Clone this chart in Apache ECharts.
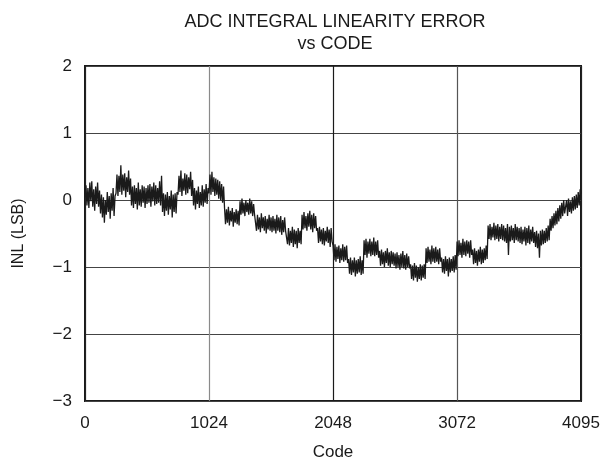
<!DOCTYPE html>
<html>
<head>
<meta charset="utf-8">
<script src="https://cdn.jsdelivr.net/npm/echarts@6/dist/echarts.min.js"></script>
<style>
  html, body { margin: 0; padding: 0; background: #fff; }
  #chart { width: 609px; height: 466px; }
</style>
</head>
<body>
<div id="chart"></div>
<script>
// INL, one value every 8 codes (16 per 128-code block), last one at code 4095
var inl = [
  0.04, 0.22, -0.08, 0.18, -0.12, 0.26, -0.02, 0.28, -0.1, 0.16, -0.16, 0.2, -0.06, 0.26, -0.1, 0.14,
  -0.2, 0.08, -0.26, 0.04, -0.34, 0.0, -0.22, 0.12, -0.18, 0.06, -0.28, 0.1, -0.16, 0.18, -0.24, 0.06,
  0.1, 0.38, 0.06, 0.36, 0.12, 0.52, 0.08, 0.38, 0.14, 0.4, 0.04, 0.34, 0.12, 0.44, 0.08, 0.32,
  -0.08, 0.2, -0.12, 0.22, -0.06, 0.18, -0.14, 0.26, -0.08, 0.16, -0.1, 0.22, -0.04, 0.2, -0.12, 0.18,
  -0.06, 0.22, -0.04, 0.24, -0.1, 0.2, -0.02, 0.26, -0.08, 0.22, -0.06, 0.18, -0.04, 0.28, -0.08, 0.36,
  -0.18, 0.1, -0.24, 0.08, -0.16, 0.12, -0.22, 0.06, -0.14, 0.14, -0.26, 0.08, -0.18, 0.1, -0.2, 0.12,
  0.08, 0.36, 0.12, 0.44, 0.06, 0.32, 0.14, 0.4, 0.08, 0.38, 0.1, 0.34, 0.16, 0.42, 0.06, 0.3,
  -0.08, 0.18, -0.14, 0.14, -0.06, 0.2, -0.12, 0.12, -0.08, 0.22, -0.1, 0.16, -0.04, 0.24, -0.06, 0.18,
  0.1, 0.38, 0.08, 0.42, 0.12, 0.34, 0.06, 0.32, 0.08, 0.3, 0.02, 0.28, 0.0, 0.24, -0.04, 0.2,
  -0.12, -0.36, -0.14, -0.34, -0.1, -0.38, -0.16, -0.32, -0.12, -0.4, -0.18, -0.34, -0.14, -0.36, -0.16, -0.38,
  -0.02, -0.22, 0.02, -0.2, -0.04, -0.24, 0.0, -0.18, -0.04, -0.22, 0.02, -0.2, -0.02, -0.24, -0.06, -0.22,
  -0.24, -0.46, -0.22, -0.44, -0.26, -0.48, -0.2, -0.42, -0.26, -0.46, -0.24, -0.5, -0.28, -0.44, -0.22, -0.46,
  -0.26, -0.48, -0.24, -0.46, -0.28, -0.5, -0.22, -0.46, -0.26, -0.48, -0.24, -0.52, -0.3, -0.48, -0.26, -0.46,
  -0.44, -0.66, -0.42, -0.68, -0.46, -0.64, -0.4, -0.7, -0.44, -0.66, -0.46, -0.72, -0.42, -0.64, -0.46, -0.66,
  -0.22, -0.44, -0.18, -0.42, -0.24, -0.46, -0.2, -0.4, -0.16, -0.44, -0.22, -0.48, -0.2, -0.42, -0.24, -0.46,
  -0.42, -0.64, -0.4, -0.62, -0.44, -0.66, -0.42, -0.68, -0.46, -0.62, -0.4, -0.64, -0.44, -0.7, -0.42, -0.62,
  -0.68, -0.9, -0.66, -0.92, -0.7, -0.88, -0.68, -0.94, -0.72, -0.9, -0.66, -0.92, -0.7, -0.9, -0.68, -0.94,
  -0.88, -1.1, -0.86, -1.12, -0.9, -1.08, -0.86, -1.14, -0.9, -1.1, -0.88, -1.08, -0.84, -1.12, -0.9, -1.1,
  -0.6, -0.82, -0.58, -0.86, -0.62, -0.8, -0.58, -0.84, -0.62, -0.82, -0.56, -0.84, -0.62, -0.82, -0.6, -0.86,
  -0.76, -0.98, -0.74, -0.96, -0.78, -1.0, -0.76, -0.94, -0.72, -0.98, -0.78, -1.0, -0.76, -0.96, -0.78, -0.98,
  -0.8, -1.02, -0.78, -1.0, -0.82, -1.04, -0.8, -1.0, -0.76, -1.02, -0.82, -1.04, -0.8, -1.0, -0.84, -1.02,
  -0.96, -1.18, -0.98, -1.2, -0.94, -1.16, -0.98, -1.22, -1.0, -1.18, -0.96, -1.2, -0.98, -1.16, -0.96, -1.18,
  -0.72, -0.94, -0.7, -0.92, -0.74, -0.96, -0.68, -0.92, -0.72, -0.94, -0.7, -0.92, -0.74, -0.96, -0.72, -0.92,
  -0.86, -1.08, -0.88, -1.1, -0.84, -1.06, -0.88, -1.14, -0.86, -1.08, -0.88, -1.06, -0.84, -1.08, -0.82, -1.04,
  -0.62, -0.84, -0.6, -0.82, -0.64, -0.86, -0.58, -0.82, -0.62, -0.84, -0.6, -0.8, -0.62, -0.86, -0.6, -0.82,
  -0.74, -0.96, -0.72, -0.94, -0.76, -0.98, -0.74, -0.92, -0.7, -0.96, -0.74, -0.94, -0.72, -0.9, -0.68, -0.88,
  -0.38, -0.58, -0.36, -0.6, -0.4, -0.56, -0.34, -0.6, -0.38, -0.58, -0.36, -0.62, -0.4, -0.58, -0.36, -0.6,
  -0.38, -0.62, -0.42, -0.64, -0.36, -0.82, -0.4, -0.62, -0.38, -0.6, -0.42, -0.64, -0.36, -0.6, -0.4, -0.62,
  -0.42, -0.64, -0.4, -0.66, -0.44, -0.62, -0.4, -0.68, -0.42, -0.64, -0.38, -0.66, -0.44, -0.62, -0.4, -0.64,
  -0.48, -0.7, -0.46, -0.72, -0.5, -0.86, -0.46, -0.68, -0.44, -0.66, -0.46, -0.64, -0.42, -0.62, -0.38, -0.6,
  -0.28, -0.46, -0.24, -0.42, -0.2, -0.38, -0.16, -0.36, -0.12, -0.32, -0.08, -0.28, -0.04, -0.24, 0.0, -0.2,
  -0.22, 0.0, -0.24, 0.02, -0.18, -0.02, -0.2, 0.04, -0.16, 0.06, -0.14, 0.08, -0.12, 0.12, -0.08, 0.16,
  0.1
];
var codeStep = 8;
var lastCode = 4095;
var xTicks = [0, 1024, 2048, 3072, 4095];

var points = inl.map(function (v, i) {
  var code = i * codeStep;
  if (code > lastCode) code = lastCode;
  return [code, v];
});

var font = 'Liberation Sans, Arial, sans-serif';
var chart = echarts.init(document.getElementById('chart'));
chart.setOption({
  animation: false,
  title: {
    text: 'ADC INTEGRAL LINEARITY ERROR\nvs CODE',
    left: 330,
    top: 6,
    textAlign: 'center',
    textStyle: { fontFamily: font, fontSize: 18, fontWeight: 'normal', color: '#1a1a1a', lineHeight: 22 }
  },
  grid: {
    left: 85, right: 28, top: 66, bottom: 64,
    show: true, borderColor: '#1a1a1a', borderWidth: 2
  },
  xAxis: {
    type: 'value',
    min: 0, max: lastCode, interval: 1024,
    name: 'Code', nameLocation: 'middle', nameGap: 43,
    nameTextStyle: { fontFamily: font, fontSize: 17, color: '#1a1a1a' },
    axisLine: { show: false },
    axisTick: { show: false, customValues: xTicks },
    axisLabel: {
      customValues: xTicks, margin: 14, fontFamily: font, fontSize: 17, color: '#1a1a1a',
      formatter: function (v) { return String(v); }
    },
    splitLine: { show: true, lineStyle: { color: ['#222', '#8a8a8a', '#1a1a1a', '#555', '#222'], width: 1.2 } }
  },
  yAxis: {
    type: 'value',
    min: -3, max: 2, interval: 1,
    name: 'INL (LSB)', nameLocation: 'middle', nameGap: 58,
    nameTextStyle: { fontFamily: font, fontSize: 16, color: '#1a1a1a' },
    axisLine: { show: false },
    axisTick: { show: false },
    axisLabel: {
      margin: 13, fontFamily: font, fontSize: 17, color: '#1a1a1a',
      formatter: function (v) { return String(v).replace('-', '\u2212'); }
    },
    splitLine: { show: true, lineStyle: { color: '#444', width: 1.2 } }
  },
  series: [{
    type: 'line',
    data: points,
    showSymbol: false,
    lineStyle: { color: '#1a1a1a', width: 1.3 }
  }]
});
</script>
</body>
</html>
